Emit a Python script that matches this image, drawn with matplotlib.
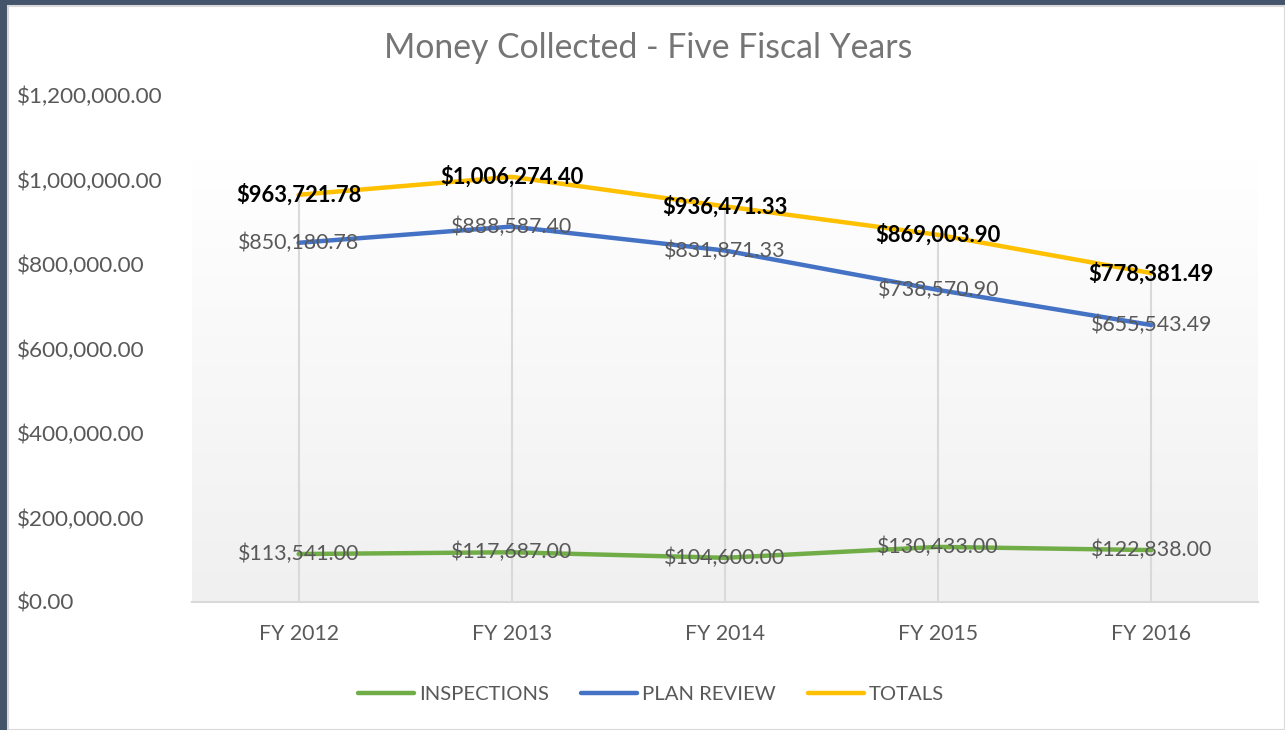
import numpy as np
import matplotlib
matplotlib.use('Agg')
import matplotlib.pyplot as plt
from matplotlib.patches import Rectangle
from matplotlib.ticker import FuncFormatter

years = ['FY 2012', 'FY 2013', 'FY 2014', 'FY 2015', 'FY 2016']
inspections = [113541.00, 117687.00, 104600.00, 130433.00, 122838.00]
plan_review = [850180.78, 888587.40, 831871.33, 738570.90, 655543.49]
totals = [963721.78, 1006274.40, 936471.33, 869003.90, 778381.49]
yticks = [0, 200000, 400000, 600000, 800000, 1000000, 1200000]

plt.rcParams['font.family'] = ['Lato', 'DejaVu Sans']
grey = '#595959'

fig = plt.figure(figsize=(12.85, 7.3), dpi=100)
fig.patch.set_facecolor('#44546A')
fig.patches.append(Rectangle((8/1285, 0), 1 - 8/1285, 1 - 6/730, transform=fig.transFigure,
                             facecolor='white', edgecolor='#D9D9D9', linewidth=1.5, zorder=-10))

ax = fig.add_axes([192/1285, 1 - 602/730, (1258 - 192)/1285, (602 - 95)/730])
ax.set_zorder(1)
ax.set_facecolor('none')
x = np.arange(len(years))

# fondo con degradado
grad = np.linspace(0, 1, 256).reshape(-1, 1)
ax.imshow(grad, cmap=matplotlib.colors.LinearSegmentedColormap.from_list('g', ['#F0F0F0', '#FFFFFF']),
          extent=[-0.5, 4.5, 0, 1046000], origin='lower', aspect='auto', zorder=0)

# liñas de caída dende o total ata o eixo
ax.vlines(x, 0, totals, color='#D9D9D9', lw=1.5, zorder=1)

ax.plot(x, inspections, color='#70AD47', lw=3.2, label='INSPECTIONS', zorder=3, solid_capstyle='round')
ax.plot(x, plan_review, color='#4472C4', lw=3.2, label='PLAN REVIEW', zorder=3, solid_capstyle='round')
ax.plot(x, totals, color='#FFC000', lw=3.2, label='TOTALS', zorder=3, solid_capstyle='round')

fmt = lambda v: '${:,.2f}'.format(v)
for xi, v in zip(x, inspections):
    ax.text(xi, v, fmt(v), ha='center', va='center', fontsize=15.4, color=grey, zorder=4)
for xi, v in zip(x, plan_review):
    ax.text(xi, v, fmt(v), ha='center', va='center', fontsize=15.4, color=grey, zorder=4)
for xi, v in zip(x, totals):
    ax.text(xi, v, fmt(v), ha='center', va='center', fontsize=15.8, color='black',
            fontweight='bold', zorder=4)

ax.set_xlim(-0.5, 4.5)
ax.set_ylim(0, 1200000)
ax.set_yticks(yticks)
ax.yaxis.set_major_formatter(FuncFormatter(lambda v, p: fmt(v)))
ax.set_xticks(x)
ax.set_xticklabels(years)
ax.tick_params(axis='both', length=0, labelcolor=grey)
ax.tick_params(axis='y', labelsize=16.2, pad=(193 - 18) * 72 / 100)
ax.tick_params(axis='x', labelsize=15.3, pad=16)
for s in ['top', 'right', 'left']:
    ax.spines[s].set_visible(False)
ax.spines['bottom'].set_color('#D9D9D9')
ax.spines['bottom'].set_linewidth(1.5)
for lbl in ax.get_yticklabels():
    lbl.set_horizontalalignment('left')

fig.text(648/1285, 1 - 48/730, 'Money Collected - Five Fiscal Years', ha='center', va='center',
         fontsize=24.3, color='#757575')

fig.legend(loc='center', bbox_to_anchor=(651/1285, 1 - 694/730), ncol=3, frameon=False,
           fontsize=14.6, labelcolor=grey, handlelength=2.75, columnspacing=1.6, handletextpad=0.25)

fig.savefig('out.png', dpi=100, facecolor=fig.get_facecolor())
